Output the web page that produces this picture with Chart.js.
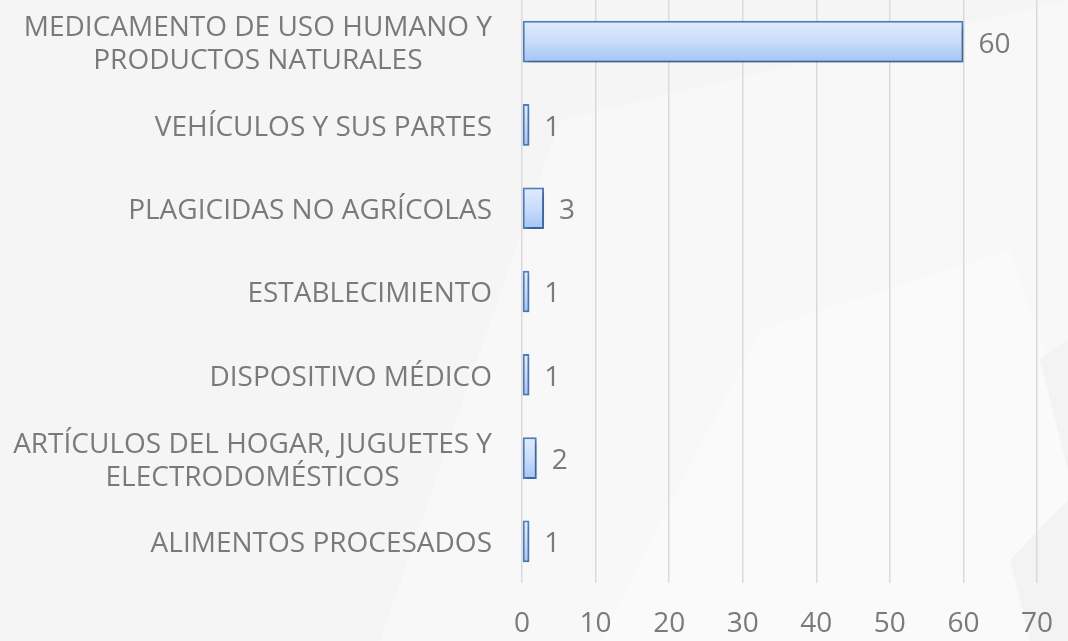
<!DOCTYPE html>
<html>
<head>
<meta charset="utf-8">
<script src="https://cdn.jsdelivr.net/npm/chart.js@4"></script>
<style>
  html, body { margin: 0; padding: 0; background: #f6f6f6; }
  #wrap { width: 1068px; height: 641px; position: relative; }
</style>
</head>
<body>
<div id="wrap"><canvas id="barChart"></canvas></div>
<script>
const categories = [
    ["MEDICAMENTO DE USO HUMANO Y", "PRODUCTOS NATURALES"],
    "VEHÍCULOS Y SUS PARTES",
    "PLAGICIDAS NO AGRÍCOLAS",
    "ESTABLECIMIENTO",
    "DISPOSITIVO MÉDICO",
    ["ARTÍCULOS DEL HOGAR, JUGUETES Y", "ELECTRODOMÉSTICOS"],
    "ALIMENTOS PROCESADOS"
];
const counts = [60, 1, 3, 1, 1, 2, 1];
const xTicks = [0, 10, 20, 30, 40, 50, 60, 70];

const FONT = "'Open Sans', sans-serif";
const FONT_SIZE = 28;
const TEXT_COLOR = "#7a7a7a";

// soft background shapes
const backdrop = {
    id: "backdrop",
    beforeDraw(chart) {
        const ctx = chart.ctx;
        ctx.save();
        ctx.fillStyle = "#f5f5f5";
        ctx.fillRect(0, 0, chart.width, chart.height);
        ctx.fillStyle = "#f8f8f8";
        ctx.beginPath();
        ctx.moveTo(380, 641); ctx.lineTo(560, 120); ctx.lineTo(1068, 0); ctx.lineTo(1068, 641);
        ctx.closePath(); ctx.fill();
        ctx.fillStyle = "#fafafa";
        ctx.beginPath();
        ctx.moveTo(600, 641); ctx.lineTo(760, 330); ctx.lineTo(1010, 250); ctx.lineTo(1068, 420); ctx.lineTo(1068, 641);
        ctx.closePath(); ctx.fill();
        ctx.fillStyle = "#f3f3f4";
        ctx.beginPath();
        ctx.moveTo(1040, 360); ctx.lineTo(1068, 340); ctx.lineTo(1068, 470);
        ctx.closePath(); ctx.fill();
        ctx.beginPath();
        ctx.moveTo(1010, 560); ctx.lineTo(1068, 500); ctx.lineTo(1068, 641); ctx.lineTo(1030, 641);
        ctx.closePath(); ctx.fill();
        ctx.restore();
    }
};

// shadow under the bars
const barShadow = {
    id: "barShadow",
    beforeDatasetsDraw(chart) {
        const ctx = chart.ctx;
        ctx.save();
        ctx.shadowColor = "rgba(0,0,0,0.35)";
        ctx.shadowBlur = 6;
        ctx.shadowOffsetX = 2;
        ctx.shadowOffsetY = 3;
    },
    afterDatasetsDraw(chart) {
        chart.ctx.restore();
    }
};

// value labels at the end of each bar
const valueLabels = {
    id: "valueLabels",
    afterDatasetsDraw(chart) {
        const ctx = chart.ctx;
        const meta = chart.getDatasetMeta(0);
        ctx.save();
        ctx.font = FONT_SIZE + "px " + FONT;
        ctx.fillStyle = TEXT_COLOR;
        ctx.textAlign = "left";
        ctx.textBaseline = "middle";
        meta.data.forEach(function (bar, i) {
            ctx.fillText(String(counts[i]), bar.x + 15, bar.y + 3);
        });
        ctx.restore();
    }
};

// category labels: block right-aligned, lines centred on each other
const categoryLabels = {
    id: "categoryLabels",
    afterDraw(chart) {
        const ctx = chart.ctx;
        const yScale = chart.scales.y;
        const right = chart.chartArea.left - 30;
        const lineH = 33;
        ctx.save();
        ctx.font = FONT_SIZE + "px " + FONT;
        ctx.fillStyle = TEXT_COLOR;
        ctx.textAlign = "center";
        ctx.textBaseline = "middle";
        categories.forEach(function (label, i) {
            const lines = Array.isArray(label) ? label : [label];
            const maxW = Math.max.apply(null, lines.map(l => ctx.measureText(l).width));
            const cx = right - maxW / 2;
            const cy = yScale.getPixelForValue(i);
            const top = cy - (lines.length - 1) * lineH / 2;
            lines.forEach(function (line, j) {
                ctx.fillText(line, cx, top + j * lineH + 3);
            });
        });
        ctx.restore();
    }
};

function barGradient(context) {
    const chart = context.chart;
    if (!chart.chartArea || !chart.scales.y) return "#c0d6f8";
    const y = chart.scales.y.getPixelForValue(context.dataIndex);
    const g = chart.ctx.createLinearGradient(0, y - 21, 0, y + 21);
    g.addColorStop(0, "#e1ecfd");
    g.addColorStop(0.5, "#c9dcfb");
    g.addColorStop(1, "#a3c4f6");
    return g;
}

document.addEventListener("DOMContentLoaded", function () {
    const el = document.getElementById("barChart").getContext("2d");

    new Chart(el, {
        type: "bar",
        data: {
            labels: categories,
            datasets: [{
                data: counts,
                backgroundColor: barGradient,
                borderColor: "#4f81c6",
                borderWidth: 2,
                borderSkipped: false,
                barPercentage: 0.5,
                categoryPercentage: 1.0
            }]
        },
        options: {
            indexAxis: "y",
            responsive: true,
            maintainAspectRatio: false,
            animation: false,
            layout: { padding: { top: 0, right: 31, bottom: 0, left: 0 } },
            plugins: {
                legend: { display: false },
                tooltip: { enabled: false }
            },
            scales: {
                x: {
                    min: 0,
                    max: 70,
                    afterBuildTicks: function (scale) {
                        scale.ticks = xTicks.map(v => ({ value: v }));
                    },
                    afterFit: function (scale) {
                        scale.height = 58;
                        scale.paddingLeft = 0;
                        scale.paddingRight = 0;
                    },
                    grid: { color: "#dadada", lineWidth: 1.5, drawTicks: false },
                    border: { display: false },
                    ticks: {
                        padding: 24,
                        color: TEXT_COLOR,
                        font: { family: FONT, size: FONT_SIZE }
                    }
                },
                y: {
                    afterFit: function (scale) { scale.width = 522; },
                    grid: { display: false, drawTicks: false },
                    border: { display: false },
                    ticks: { display: false }
                }
            }
        },
        plugins: [backdrop, barShadow, valueLabels, categoryLabels]
    });
});
</script>
</body>
</html>
